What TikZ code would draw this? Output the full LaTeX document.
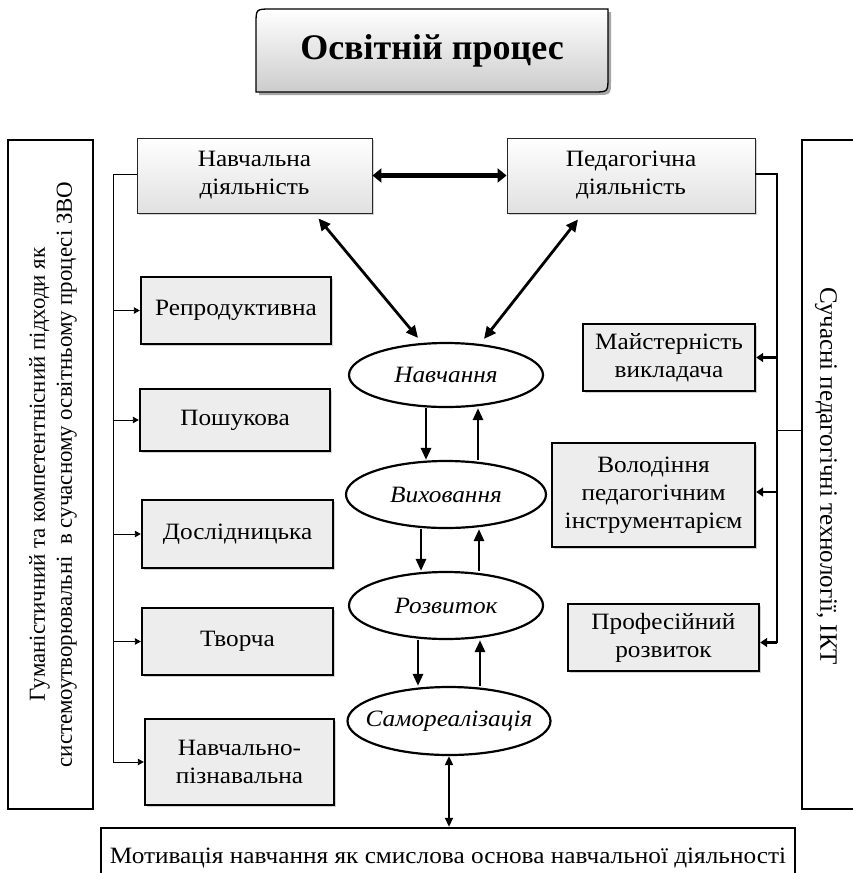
\documentclass[tikz,border=0pt]{standalone}
\usepackage{fontspec}
\setmainfont{Liberation Serif}
\newfontfamily\boxfont{Liberation Serif}[FakeStretch=1.08]
\usetikzlibrary{arrows.meta,shadows,shapes.geometric,calc}
\tikzset{
  every node/.style={inner sep=0pt, align=center},
  txt/.style={font=\boxfont\fontsize{23.4}{28}\selectfont},
  topbox/.style={txt, draw=black!85, line width=0.9pt, top color=white, bottom color=black!12,
    drop shadow={shadow xshift=1.5pt, shadow yshift=-1.5pt, opacity=0.35}},
  gbox/.style={txt, draw=black, line width=2.4pt, fill=black!7,
    drop shadow={shadow xshift=1.5pt, shadow yshift=-1.5pt, opacity=0.35}},
  ell/.style={ellipse, draw=black, line width=2.2pt, fill=white, inner xsep=-40pt, inner ysep=-4pt,
    font=\boxfont\itshape\fontsize{23.4}{28}\selectfont},
  side/.style={draw=black, line width=1.4pt},
  sidetxt/.style={font=\fontsize{22.9}{27}\selectfont},
  varr/.style={line width=2.8pt, -{Triangle[length=12pt,width=10pt]}},
  darr/.style={line width=2.8pt, {Triangle[length=12pt,width=11pt]}-{Triangle[length=12pt,width=11pt]}},
  harr/.style={line width=4.5pt, {Triangle[length=9pt,width=14pt]}-{Triangle[length=9pt,width=14pt]}},
  barr/.style={line width=1.8pt, {Triangle[length=9pt,width=8pt]}-{Triangle[length=9pt,width=8pt]}},
  lline/.style={line width=0.9pt},
  larr/.style={line width=0.9pt, -{Triangle[length=6pt,width=6.5pt]}},
  rline/.style={line width=2.6pt},
  rarr/.style={line width=2.6pt, -{Triangle[length=7pt,width=9pt]}},
}
\begin{document}
\begin{tikzpicture}[x=1pt,y=-1pt]
\useasboundingbox (0,0) rectangle (852,873);
\fill[white] (0,0) rectangle (852,873);

% title
\fill[black!35] (259,95) -- (259,27) .. controls (259,12) .. (274,12) -- (611,12) -- (611,80) .. controls (611,95) .. (596,95) -- cycle;
\draw[line width=1.3pt, top color=white, bottom color=black!20]
  (256,92) -- (256,24) .. controls (256,9) .. (271,9) -- (608,9) -- (608,77) .. controls (608,92) .. (593,92) -- cycle;
\node[font=\fontsize{36}{40}\selectfont\bfseries] (title) at (432,51) {Освітній процес};

% side boxes
\node[side, minimum width=85pt, minimum height=669pt] (lbox) at (50.5,474.5) {};
\node[sidetxt, rotate=90] (ltext) at (53,474.5) {Гуманістичний та компетентнісний підходи як\\системоутворювальні \ в сучасному освітньому процесі ЗВО};
\node[draw=black, line width=1.1pt, minimum width=54pt, minimum height=669pt] (rbox) at (829,474.5) {};
\node[font=\fontsize{25}{28}\selectfont, rotate=-90] (rtext) at (826,476) {Сучасні педагогічні технології, ІКТ};

% top boxes
\node[topbox, minimum width=235pt, minimum height=75pt] (nav) at (254.5,175.5) {Навчальна\\діяльність};
\node[topbox, minimum width=248pt, minimum height=75pt] (ped) at (631,175.5) {Педагогічна\\діяльність};

% left boxes
\node[gbox, minimum width=190pt, minimum height=67pt] (rep) at (236,310.5) {Репродуктивна};
\node[gbox, minimum width=190pt, minimum height=62pt] (posh) at (235,420) {Пошукова};
\node[gbox, minimum width=191pt, minimum height=68pt] (dosl) at (237.5,534) {Дослідницька};
\node[gbox, minimum width=191pt, minimum height=67pt] (tvor) at (237.5,641.5) {Творча};
\node[gbox, minimum width=189pt, minimum height=86pt] (npz) at (239.5,762) {Навчально-\\пізнавальна};

% right boxes
\node[gbox, minimum width=172pt, minimum height=67pt] (maist) at (669,357.5) {Майстерність\\викладача};
\node[gbox, minimum width=203pt, minimum height=104pt] (vol) at (653.5,495) {Володіння\\педагогічним\\інструментарієм};
\node[gbox, minimum width=191pt, minimum height=67pt] (prof) at (663.5,637.5) {Професійний\\розвиток};

% ellipses
\node[ell, minimum width=194pt, minimum height=64pt] (nave) at (446,375) {Навчання};
\node[ell, minimum width=200pt, minimum height=67pt] (vyh) at (446,494.5) {Виховання};
\node[ell, minimum width=194pt, minimum height=67pt] (rozv) at (446,605.5) {Розвиток};
\node[ell, minimum width=203pt, minimum height=68pt] (samo) at (449,721) {Самореалізація};

% bottom box
\node[txt, draw=black, line width=2.4pt, fill=white, minimum width=694pt, minimum height=60pt] (mot) at (448,858) {Мотивація навчання як смислова основа навчальної діяльності};

% arrows between top boxes
\draw[harr] (nav.east) -- (ped.west);
\draw[darr] ([xshift=64pt,yshift=-5pt]nav.south) -- ([xshift=-28pt,yshift=4pt]nave.north);
\draw[darr] ([xshift=-53pt,yshift=-6pt]ped.south) -- ([xshift=38pt,yshift=3pt]nave.north);

% ellipse arrows
\draw[varr] ([xshift=-20pt]nave.south) -- ([xshift=-20pt]nave.south |- vyh.north);
\draw[varr] ([xshift=32pt]vyh.north) -- ([xshift=32pt]vyh.north |- nave.south);
\draw[varr] ([xshift=-25pt]vyh.south) -- ([xshift=-25pt]vyh.south |- rozv.north);
\draw[varr] ([xshift=33pt]rozv.north) -- ([xshift=33pt]rozv.north |- vyh.south);
\draw[varr] ([xshift=-28pt]rozv.south) -- ([xshift=-28pt]rozv.south |- samo.north);
\draw[varr] ([xshift=31pt]samo.north) -- ([xshift=31pt]samo.north |- rozv.south);
\draw[barr] (samo.south) -- (samo.south |- mot.north);

% left bracket
\coordinate (lt) at (113,174);
\draw[lline] (nav.west |- lt) -- (lt) -- (lt |- npz.west);
\draw[larr] (lt |- rep.west) -- (rep.west);
\draw[larr] (lt |- posh.west) -- (posh.west);
\draw[larr] (lt |- dosl.west) -- (dosl.west);
\draw[larr] (lt |- tvor.west) -- (tvor.west);
\draw[larr] (lt |- npz.west) -- (npz.west);

% right bracket
\coordinate (rt) at (777,174);
\coordinate (rm) at (777,430);
\draw[rline] (ped.east |- rt) -- (rt) -- ([yshift=-5pt]rt |- prof.east);
\draw[rarr] (rt |- maist.east) -- (maist.east);
\draw[rarr] ([yshift=3pt]rt |- vol.east) -- ([yshift=3pt]vol.east);
\draw[rarr] ([yshift=-5pt]rt |- prof.east) -- ([yshift=-5pt]prof.east);
\draw[lline] (rm) -- (rm -| rbox.west);
\end{tikzpicture}
\end{document}
